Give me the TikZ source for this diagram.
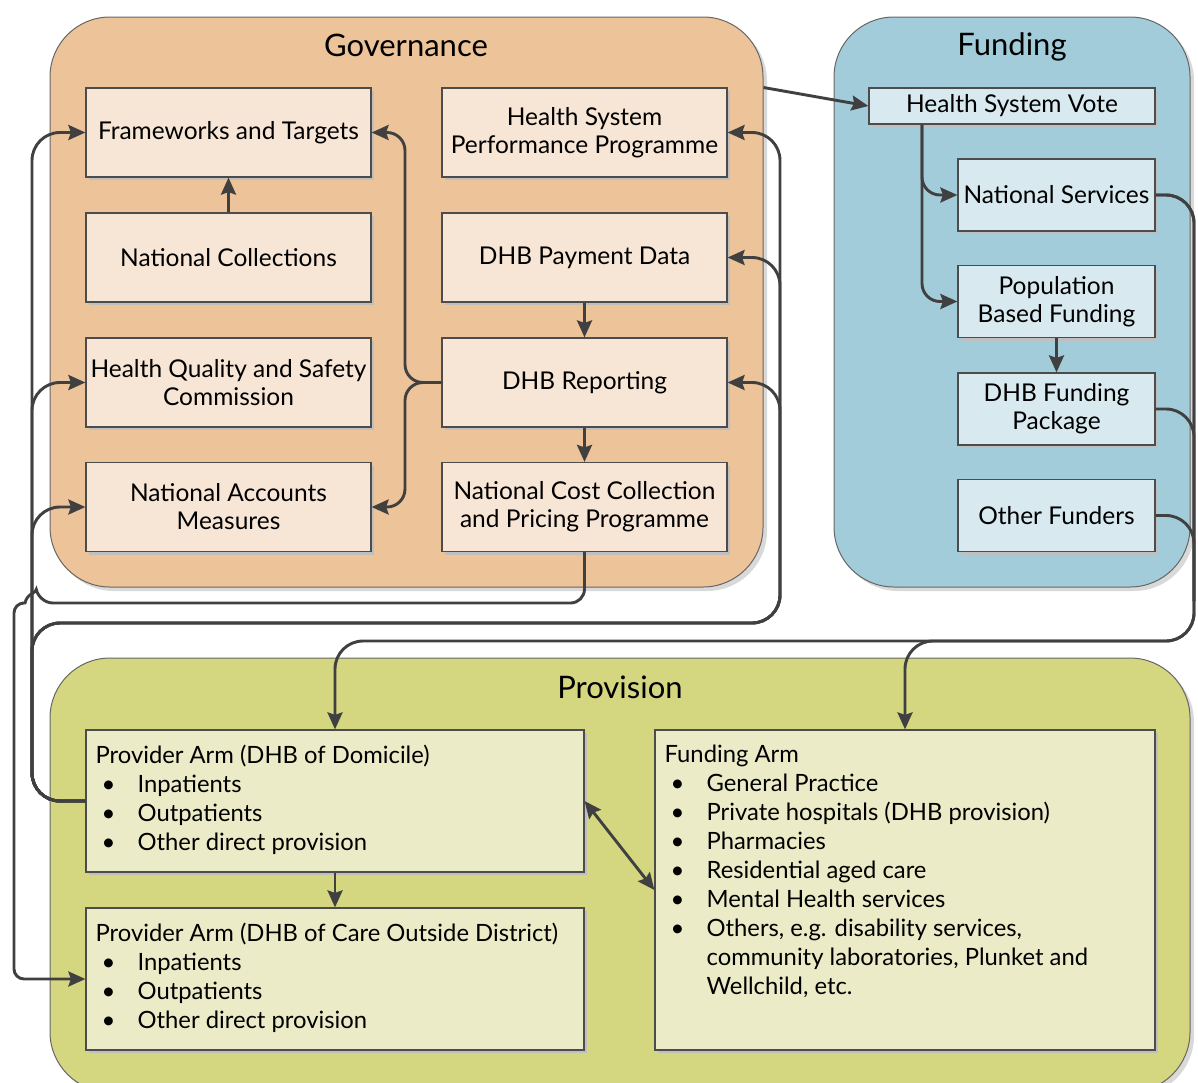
\documentclass[tikz,border=0pt]{standalone}
\usepackage{fontspec}
\setmainfont{Lato}
\usetikzlibrary{arrows.meta,calc,shadows,positioning}
\tikzset{>={Stealth[length=17pt,width=15pt,inset=2.5pt]}}

\definecolor{govfill}{RGB}{237,195,153}
\definecolor{govcellfill}{RGB}{247,230,214}
\definecolor{funfill}{RGB}{163,204,218}
\definecolor{funcellfill}{RGB}{216,233,240}
\definecolor{profill}{RGB}{212,214,128}
\definecolor{procellfill}{RGB}{235,235,200}
\definecolor{linegray}{RGB}{64,64,64}

\newcommand{\blt}{\makebox[42pt][l]{\hspace{6pt}\textbullet}}

\begin{document}
\begin{tikzpicture}[x=1pt,y=-1pt,
    area/.style={draw=black!60, line width=1pt, rounded corners=60pt,
        drop shadow={shadow xshift=4pt,shadow yshift=-4pt,fill=black!15,opacity=1}},
    areatitle/.style={font=\fontsize{31}{36}\selectfont, inner sep=0pt},
    cell/.style={draw=black!70, line width=1.2pt, align=center, inner sep=2pt,
        font=\fontsize{24.5}{28}\selectfont,
        drop shadow={shadow xshift=3pt,shadow yshift=-3pt,fill=black!25,opacity=1}},
    govcell/.style={cell, fill=govcellfill, minimum width=285pt, minimum height=89pt},
    funcell/.style={cell, fill=funcellfill, minimum width=197pt, minimum height=72pt},
    procell/.style={cell, fill=procellfill},
    listtext/.style={anchor=north west, align=left, inner sep=0pt,
        font=\fontsize{23.8}{29}\selectfont},
    conn/.style={draw=linegray, line width=2.9pt, rounded corners=18pt}]

    \useasboundingbox (0,0) rectangle (1198,1082);

    % Areas
    \node[area, fill=govfill, minimum width=713pt, minimum height=570pt] (gov) at (406.5,302) {};
    \node[area, fill=funfill, minimum width=356pt, minimum height=570pt] (fun) at (1012,302) {};
    \node[area, fill=profill, minimum width=1140pt, minimum height=434pt] (pro) at (620,875) {};
    \node[areatitle] (govtitle) at (406,45) {Governance};
    \node[areatitle] (funtitle) at (1012,47) {Funding};
    \node[areatitle] (protitle) at (620,687) {Provision};

    % Governance
    \node[govcell] (fw) at (228.5,132.5) {Frameworks and Targets};
    \node[govcell] (nc) at (228.5,257.5) {National Collections};
    \node[govcell] (hqsc) at (228.5,382.5) {Health Quality and Safety\\Commission};
    \node[govcell] (nam) at (228.5,507) {National Accounts\\Measures};
    \node[govcell] (hspp) at (584.5,132.5) {Health System\\Performance Programme};
    \node[govcell] (pay) at (584.5,257.5) {DHB Payment Data};
    \node[govcell] (rep) at (584.5,382.5) {DHB Reporting};
    \node[govcell] (nccpp) at (584.5,507) {National Cost Collection\\and Pricing Programme};

    % Funding
    \node[funcell, minimum width=286pt, minimum height=36pt] (hsv) at (1012,106) {Health System Vote};
    \node[funcell] (ns) at (1056.5,195) {National Services};
    \node[funcell] (pbf) at (1056.5,301.5) {Population\\Based Funding};
    \node[funcell] (fp) at (1056.5,409) {DHB Funding\\Package};
    \node[funcell] (of) at (1056.5,515.5) {Other Funders};

    % Provision
    \node[procell, minimum width=498pt, minimum height=142pt] (dom) at (335,801) {};
    \node[procell, minimum width=498pt, minimum height=142pt] (coa) at (335,979) {};
    \node[procell, minimum width=500pt, minimum height=320pt] (fa) at (905,890) {};
    \node[listtext] (domtext) at ([shift={(10pt,-15pt)}]dom.north west)
        {Provider Arm (DHB of Domicile)\\ \blt Inpatients\\ \blt Outpatients\\ \blt Other direct provision};
    \node[listtext] (coatext) at ([shift={(10pt,-15pt)}]coa.north west)
        {Provider Arm (DHB of Care Outside District)\\ \blt Inpatients\\ \blt Outpatients\\ \blt Other direct provision};
    \node[listtext] (fatext) at ([shift={(10pt,-15pt)}]fa.north west)
        {Funding Arm\\ \blt General Practice\\ \blt Private hospitals (DHB provision)\\ \blt Pharmacies\\
         \blt Residential aged care\\ \blt Mental Health services\\ \blt Others, e.g. disability services,\\
         \hspace*{42pt}community laboratories, Plunket and\\ \hspace*{42pt}Wellchild, etc.};

    % inside governance
    \coordinate (gtrunk) at (405,0);
    \draw[conn,->] (nc.north) -- (fw.south);
    \draw[conn,->] (pay.south) -- (rep.north);
    \draw[conn,->] (rep.south) -- (nccpp.north);
    \draw[conn,->] (rep.west) -- (gtrunk |- rep.west) |- (fw.east);
    \draw[conn,->] (rep.west) -- (gtrunk |- rep.west) |- (nam.east);
    \draw[conn,->] ($(gov.north east)+(0,71)$) -- (hsv.west);

    % inside funding
    \coordinate (ftrunk) at (922,0);
    \draw[conn,->] (ftrunk |- hsv.south) |- (ns.west);
    \draw[conn,->] (ftrunk |- hsv.south) |- (pbf.west);
    \draw[conn,->] (pbf.south) -- (fp.north);

    % funding to provision
    \coordinate (rtrunk) at (1194,641);
    \draw[conn,->,rounded corners=28pt] (ns.east) -| (rtrunk) -| (dom.north);
    \draw[conn,->,rounded corners=28pt] (ns.east) -| (rtrunk) -| (fa.north);
    \draw[conn,rounded corners=28pt] (fp.east) -| ([yshift=40pt]rtrunk);
    \draw[conn,rounded corners=28pt] (of.east) -| ([yshift=40pt]rtrunk);

    % provision to governance
    \coordinate (ltrunk) at (32,623);
    \coordinate (gtrunkb) at (780,623);
    \draw[conn,->,rounded corners=28pt] (dom.west) -| (ltrunk |- fw.west) -- (fw.west);
    \draw[conn,->,rounded corners=28pt] (dom.west) -| (ltrunk |- hqsc.west) -- (hqsc.west);
    \draw[conn,->,rounded corners=28pt] (dom.west) -| (ltrunk |- nam.west) -- (nam.west);
    \draw[conn,->,rounded corners=28pt] (dom.west) -| (ltrunk) -| (gtrunkb |- hspp.east) -- (hspp.east);
    \draw[conn,->,rounded corners=28pt] (dom.west) -| (ltrunk) -| (gtrunkb |- pay.east) -- (pay.east);
    \draw[conn,->,rounded corners=28pt] (dom.west) -| (ltrunk) -| (gtrunkb |- rep.east) -- (rep.east);

    % cost collection to outside district
    \coordinate (bline) at (0,603);
    \coordinate (otrunk) at (14,0);
    \draw[conn,->,rounded corners=14pt] (nccpp.south) |- ([xshift=7pt]ltrunk |- bline)
        [sharp corners] .. controls +(-2,-10) and +(2,-10) .. ([xshift=-7pt]ltrunk |- bline)
        -- ([xshift=8pt]otrunk |- bline) [rounded corners=10pt] -- (otrunk |- bline) |- (coa.west);

    % inside provision
    \draw[conn,->] (dom.south) -- (coa.north);
    \draw[conn,<->] (dom.east) -- (fa.west);
\end{tikzpicture}
\end{document}
